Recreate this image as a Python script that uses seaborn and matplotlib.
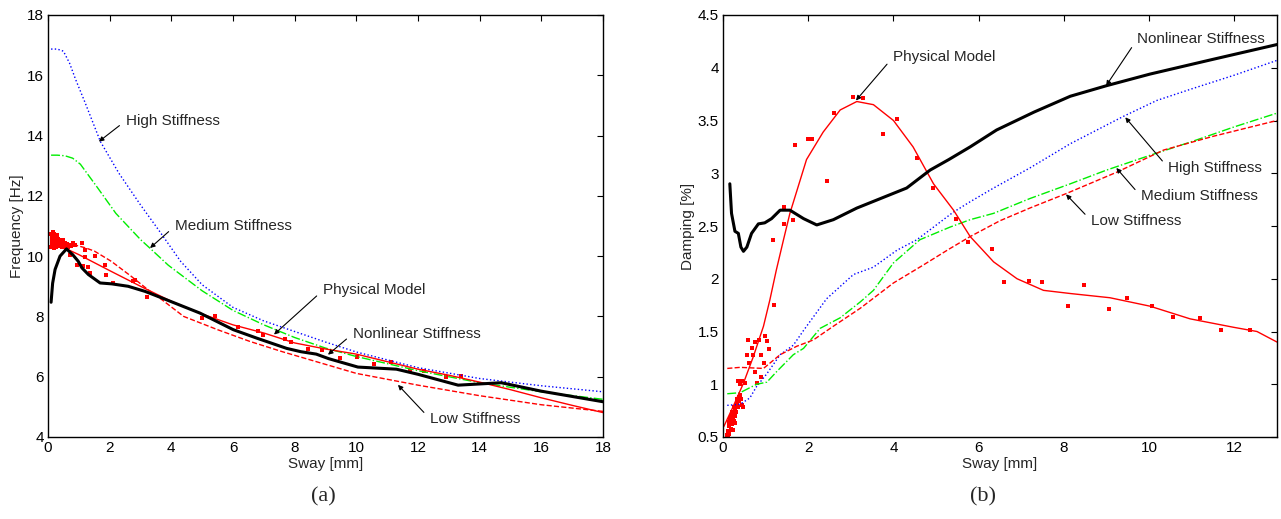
import matplotlib
matplotlib.use('Agg')
import matplotlib.pyplot as plt
import seaborn as sns
import numpy as np

# ========== data: (a) frequency vs sway ==========
f_high_x = [0.1, 0.3, 0.5, 0.7, 0.9, 1.2, 1.7, 2.3, 3, 3.6, 4.3, 5, 6, 7, 8, 9, 10, 12, 14, 16, 18]
f_high_y = [16.87, 16.87, 16.8, 16.4, 15.85, 15.1, 13.8, 12.75, 11.7, 10.85, 9.83, 9.05, 8.3, 7.85, 7.5, 7.15, 6.82, 6.3, 5.94, 5.7, 5.5]

f_med_x = [0.1, 0.3, 0.55, 0.8, 1.05, 1.6, 2.2, 3, 3.3, 3.9, 5, 6, 7, 8, 9, 10, 12, 14, 16, 18]
f_med_y = [13.35, 13.35, 13.33, 13.25, 13.05, 12.28, 11.42, 10.55, 10.27, 9.7, 8.85, 8.2, 7.72, 7.3, 6.95, 6.67, 6.2, 5.8, 5.5, 5.25]

f_low_x = [0.1, 0.4, 0.8, 1.2, 1.5, 2.05, 2.7, 3.25, 3.7, 4.4, 5.5, 6.55, 7.6, 8.5, 10, 12, 14, 16, 18]
f_low_y = [10.42, 10.42, 10.39, 10.28, 10.17, 9.83, 9.33, 8.88, 8.55, 8.0, 7.56, 7.17, 6.83, 6.56, 6.11, 5.72, 5.37, 5.07, 4.85]

f_phys_x = [0.6, 1, 2, 3, 4, 5, 6, 7, 8, 9, 10, 11, 12, 13, 14, 15, 16, 17, 18]
f_phys_y = [10.24, 10.05, 9.52, 9.0, 8.5, 8.08, 7.72, 7.45, 7.12, 6.92, 6.75, 6.5, 6.25, 6.05, 5.82, 5.57, 5.3, 5.05, 4.81]

f_nl_x = [0.1, 0.15, 0.23, 0.39, 0.6, 0.8, 0.98, 1.1, 1.31, 1.69, 2.07, 2.6, 3.15, 3.8, 4.93, 6.01, 6.77,
          7.74, 8.2, 8.7, 9.1, 10.05, 11.3, 12, 13.3, 14.7, 16, 18]
f_nl_y = [8.47, 9.1, 9.56, 10.0, 10.24, 10.05, 9.83, 9.61, 9.39, 9.11, 9.08, 9.0, 8.83, 8.57, 8.11, 7.56, 7.28,
          6.94, 6.83, 6.75, 6.6, 6.32, 6.25, 6.08, 5.72, 5.8, 5.52, 5.17]

# measured points (cluster at small sway + scattered)
f_dot_x = [0.10, 0.12, 0.13, 0.14, 0.15, 0.16, 0.17, 0.18, 0.19, 0.20, 0.21, 0.22, 0.23, 0.24, 0.25, 0.26,
           0.27, 0.28, 0.30, 0.31, 0.32, 0.34, 0.35, 0.37, 0.38, 0.40, 0.42, 0.44, 0.46, 0.48, 0.50, 0.53,
           0.55, 0.58, 0.62, 0.66, 0.70, 0.75, 0.80, 0.88, 0.11, 0.13, 0.20, 0.29,
           0.71, 0.93, 1.11, 1.15, 1.2, 1.2, 1.29, 1.37, 1.52, 1.85, 1.87, 2.1, 2.77, 2.82, 3.22, 4.98,
           5.42, 6.17, 6.82, 6.98, 7.69, 7.88, 8.44, 8.9, 9.47, 10.03, 10.57, 11.11, 11.74, 12.2, 12.9, 13.4]
f_dot_y = [10.75, 10.62, 10.50, 10.40, 10.80, 10.68, 10.55, 10.45, 10.35, 10.72, 10.60, 10.50, 10.42, 10.65,
           10.30, 10.55, 10.45, 10.62, 10.38, 10.52, 10.44, 10.58, 10.33, 10.48, 10.40, 10.55, 10.36, 10.46,
           10.30, 10.42, 10.52, 10.35, 10.44, 10.28, 10.40, 10.30, 10.36, 10.33, 10.45, 10.38, 10.30, 10.58,
           10.28, 10.70,
           10.03, 9.72, 10.44, 9.68, 10.19, 9.97, 9.63, 9.45, 10.0, 9.72, 9.39, 9.11, 9.17, 9.2, 8.63, 7.96,
           8.03, 7.64, 7.53, 7.38, 7.24, 7.14, 6.93, 6.9, 6.63, 6.67, 6.41, 6.48, 6.19, 6.2, 6.0, 6.03]

# ========== data: (b) damping vs sway ==========
d_high_x = [0.1, 0.4, 0.63, 0.79, 1.03, 1.34, 1.65, 1.89, 2.43, 3.06, 3.53, 4.08, 4.55, 5.4, 5.8, 6.35, 7.2,
            8.15, 9.4, 10.18, 11, 12, 13]
d_high_y = [0.8, 0.81, 0.87, 0.98, 1.10, 1.28, 1.37, 1.51, 1.81, 2.04, 2.11, 2.27, 2.37, 2.63, 2.73, 2.86, 3.05,
            3.28, 3.54, 3.69, 3.8, 3.93, 4.07]

d_med_x = [0.1, 0.4, 0.79, 1.03, 1.26, 1.65, 1.89, 2.28, 2.75, 3.22, 3.53, 4.0, 4.62, 5.33, 5.8, 6.35, 7.2,
           8.15, 9.0, 10.02, 11, 12, 13]
d_med_y = [0.91, 0.92, 1.0, 1.02, 1.12, 1.28, 1.34, 1.53, 1.63, 1.78, 1.89, 2.15, 2.37, 2.49, 2.56, 2.62, 2.76,
           2.90, 3.03, 3.17, 3.3, 3.44, 3.57]

d_low_x = [0.1, 0.4, 0.95, 1.34, 1.73, 2.12, 2.59, 3.22, 4.0, 4.7, 5.3, 5.8, 6.5, 7.2, 8.07, 9.24, 10.34, 11.5, 13]
d_low_y = [1.15, 1.16, 1.15, 1.28, 1.36, 1.42, 1.55, 1.72, 1.96, 2.13, 2.28, 2.40, 2.55, 2.67, 2.81, 3.01, 3.22,
           3.35, 3.50]

d_phys_x = [0.02, 0.24, 0.48, 0.71, 0.95, 1.1, 1.25, 1.42, 1.57, 1.96, 2.35, 2.75, 3.14, 3.53, 4.0, 4.46, 4.94,
            5.41, 5.8, 6.35, 6.9, 7.52, 8.15, 9.08, 10.02, 10.96, 11.98, 12.53, 13]
d_phys_y = [0.6, 0.79, 1.01, 1.26, 1.55, 1.8, 2.08, 2.37, 2.62, 3.13, 3.39, 3.60, 3.68, 3.65, 3.50, 3.25, 2.90,
            2.65, 2.40, 2.16, 2.0, 1.89, 1.86, 1.82, 1.74, 1.62, 1.54, 1.50, 1.40]

d_nl_x = [0.16, 0.2, 0.28, 0.36, 0.42, 0.48, 0.56, 0.67, 0.83, 0.98, 1.14, 1.34, 1.57, 1.89, 2.2, 2.59, 3.14,
          4.31, 4.86, 5.3, 5.8, 6.42, 7.3, 8.15, 9.0, 10.02, 11.5, 13]
d_nl_y = [2.9, 2.62, 2.45, 2.43, 2.30, 2.26, 2.30, 2.43, 2.52, 2.53, 2.57, 2.65, 2.65, 2.57, 2.51, 2.56, 2.67,
          2.86, 3.03, 3.13, 3.25, 3.41, 3.58, 3.73, 3.83, 3.94, 4.08, 4.22]

d_dot_x = [0.10, 0.12, 0.13, 0.14, 0.15, 0.16, 0.17, 0.18, 0.19, 0.20, 0.21, 0.22, 0.23, 0.24, 0.25, 0.26,
           0.27, 0.28, 0.30, 0.31, 0.32, 0.34, 0.35, 0.37, 0.38, 0.40, 0.42, 0.45, 0.48, 0.36, 0.40, 0.45,
           0.52, 0.11, 0.14, 0.18, 0.23, 0.29,
           0.56, 0.59, 0.6, 0.67, 0.70, 0.74, 0.76, 0.80, 0.84, 0.88, 0.90, 0.97, 0.99, 1.03, 1.08, 1.2,
           1.18, 1.42, 1.42, 1.65, 1.69, 2.0, 2.08, 2.43, 2.61, 3.04, 3.28, 3.76, 4.08, 4.55, 4.92, 5.47,
           5.76, 6.32, 6.6, 7.19, 7.48, 8.1, 8.46, 9.06, 9.49, 10.06, 10.57, 11.2, 11.68, 12.37]
d_dot_y = [0.52, 0.56, 0.60, 0.64, 0.55, 0.68, 0.62, 0.58, 0.70, 0.66, 0.74, 0.62, 0.68, 0.72, 0.78, 0.65,
           0.76, 0.70, 0.80, 0.74, 0.86, 0.82, 0.78, 0.88, 0.84, 0.90, 0.86, 0.80, 0.78, 1.03, 1.0, 1.03,
           1.01, 0.50, 0.53, 0.65, 0.57, 0.63,
           1.28, 1.42, 1.2, 1.34, 1.28, 1.12, 1.40, 1.01, 1.42, 1.07, 1.28, 1.2, 1.46, 1.41, 1.33, 1.75,
           2.37, 2.68, 2.52, 2.56, 3.27, 3.32, 3.32, 2.93, 3.57, 3.72, 3.71, 3.37, 3.51, 3.14, 2.86, 2.57,
           2.35, 2.28, 1.97, 1.98, 1.97, 1.74, 1.94, 1.71, 1.82, 1.74, 1.64, 1.63, 1.51, 1.51]

# ========== style ==========
sns.set_style('white')
plt.rcParams['font.family'] = ['Liberation Sans', 'DejaVu Sans']
plt.rcParams['font.size'] = 11

fig = plt.figure(figsize=(12.81, 5.19), dpi=100)
ax1 = fig.add_axes([48 / 1281, 1 - 437 / 519, 555 / 1281, 422 / 519])
ax2 = fig.add_axes([723 / 1281, 1 - 437 / 519, 554 / 1281, 422 / 519])


def draw_line(ax, x, y, color, ls, lw):
    sns.lineplot(x=x, y=y, ax=ax, color=color, linestyle=ls, linewidth=lw,
                 estimator=None, sort=False)


def arrow_note(ax, text, tip, txt):
    ax.annotate(text, xy=tip, xytext=txt, ha='left', va='center', fontsize=11,
                arrowprops=dict(arrowstyle='-|>', color='k', lw=0.8, mutation_scale=7,
                                shrinkA=3, shrinkB=0, relpos=(0, 0.5)))


# ----- (a) -----
draw_line(ax1, f_high_x, f_high_y, 'blue', ':', 1.0)
draw_line(ax1, f_med_x, f_med_y, '#00ee00', '-.', 1.0)
draw_line(ax1, f_low_x, f_low_y, 'red', '--', 1.0)
draw_line(ax1, f_phys_x, f_phys_y, 'red', '-', 1.0)
sns.scatterplot(x=f_dot_x, y=f_dot_y, ax=ax1, color='red', s=9, linewidth=0, marker='s')
draw_line(ax1, f_nl_x, f_nl_y, 'black', '-', 2.2)

ax1.set_xlim(0, 18)
ax1.set_ylim(4, 18)
ax1.set_xticks(np.arange(0, 19, 2))
ax1.set_yticks(np.arange(4, 19, 2))
ax1.set_xlabel('Sway [mm]', labelpad=1)
ax1.set_ylabel('Frequency [Hz]', labelpad=2)

arrow_note(ax1, 'High Stiffness', (1.65, 13.8), (2.53, 14.5))
arrow_note(ax1, 'Medium Stiffness', (3.31, 10.27), (4.12, 11.0))
arrow_note(ax1, 'Physical Model', (7.33, 7.4), (8.92, 8.87))
arrow_note(ax1, 'Nonlinear Stiffness', (9.08, 6.73), (9.89, 7.43))
arrow_note(ax1, 'Low Stiffness', (11.35, 5.73), (12.39, 4.6))

# ----- (b) -----
draw_line(ax2, d_high_x, d_high_y, 'blue', ':', 1.0)
draw_line(ax2, d_med_x, d_med_y, '#00ee00', '-.', 1.0)
draw_line(ax2, d_low_x, d_low_y, 'red', '--', 1.0)
draw_line(ax2, d_phys_x, d_phys_y, 'red', '-', 1.0)
sns.scatterplot(x=d_dot_x, y=d_dot_y, ax=ax2, color='red', s=9, linewidth=0, marker='s')
draw_line(ax2, d_nl_x, d_nl_y, 'black', '-', 2.2)

ax2.set_xlim(0, 13)
ax2.set_ylim(0.5, 4.5)
ax2.set_xticks(np.arange(0, 13, 2))
ax2.set_yticks(np.arange(0.5, 4.6, 0.5))
ax2.set_yticklabels(['0.5', '1', '1.5', '2', '2.5', '3', '3.5', '4', '4.5'])
ax2.set_xlabel('Sway [mm]', labelpad=1)
ax2.set_ylabel('Damping [%]', labelpad=2)

arrow_note(ax2, 'Physical Model', (3.12, 3.69), (3.99, 4.10))
arrow_note(ax2, 'Nonlinear Stiffness', (8.99, 3.83), (9.72, 4.27))
arrow_note(ax2, 'High Stiffness', (9.44, 3.53), (10.45, 3.05))
arrow_note(ax2, 'Medium Stiffness', (9.23, 3.05), (9.81, 2.78))
arrow_note(ax2, 'Low Stiffness', (8.05, 2.80), (8.64, 2.55))

for ax in (ax1, ax2):
    ax.tick_params(direction='in', length=4, width=0.8, top=True, right=True,
                   labelsize=11, pad=3, colors='k')
    for sp in ax.spines.values():
        sp.set_visible(True)
        sp.set_color('black')
        sp.set_linewidth(1.0)

fig.text(323 / 1281, 1 - 497 / 519, '(a)', ha='center', va='center',
         family=['Liberation Serif', 'DejaVu Serif'], fontsize=16)
fig.text(983 / 1281, 1 - 497 / 519, '(b)', ha='center', va='center',
         family=['Liberation Serif', 'DejaVu Serif'], fontsize=16)

fig.savefig('out.png', dpi=100)
